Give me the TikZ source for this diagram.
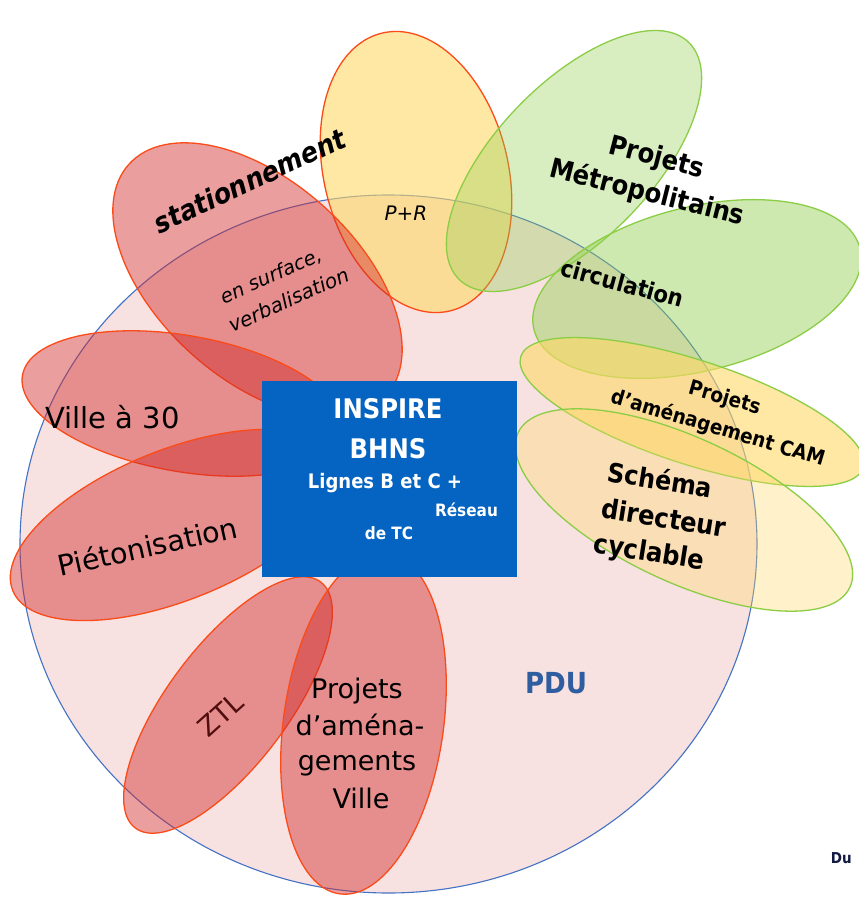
\documentclass[tikz,border=0pt]{standalone}
\usepackage{fontspec}
\setmainfont{DejaVu Sans}
\newfontfamily\bcond[FakeStretch=0.9]{DejaVu Sans}
\newcommand\fsz[1]{\fontsize{#1}{#1}\selectfont}
\definecolor{pdufill}{RGB}{247,225,225}
\definecolor{pduline}{RGB}{68,114,196}
\definecolor{redfill}{RGB}{210,40,40}
\definecolor{redline}{RGB}{250,75,25}
\definecolor{yelfill}{RGB}{255,217,102}
\definecolor{grnfill}{RGB}{146,208,80}
\definecolor{grnline}{RGB}{140,205,70}
\definecolor{boxblue}{RGB}{5,99,193}
\definecolor{pdutext}{RGB}{46,94,160}
\definecolor{ztlcol}{RGB}{80,15,15}
\definecolor{navytxt}{RGB}{15,25,65}
\begin{document}
\begin{tikzpicture}[x=1pt,y=-1pt,
  pdu/.style={fill=pdufill,draw=pduline,line width=1.1pt},
  redell/.style={fill=redfill,fill opacity=0.45,draw=redline,line width=1.3pt},
  yelred/.style={fill=yelfill,fill opacity=0.6,draw=redline,line width=1.3pt},
  yelgrn/.style={fill=yelfill,fill opacity=0.6,draw=grnline,line width=1.3pt},
  paleyel/.style={fill=yelfill,fill opacity=0.35,draw=grnline,line width=1.3pt},
  grnlight/.style={fill=grnfill,fill opacity=0.35,draw=grnline,line width=1.3pt},
  grnmid/.style={fill=grnfill,fill opacity=0.45,draw=grnline,line width=1.3pt},
  lbl/.style={inner sep=0pt,anchor=base,text=black},
  boxlbl/.style={inner sep=0pt,anchor=base,text=white},
]
\useasboundingbox (0,0) rectangle (859,897);
\clip (0,0) rectangle (859,897);
\fill[white] (0,0) rectangle (859,897);

% PDU
\draw[pdu] (388.5,544) ellipse [x radius=368.5, y radius=349];

% yellow / green
\draw[yelred, rotate around={14:(416,172)}] (416,172) ellipse [x radius=92, y radius=143];
\draw[grnlight, rotate around={46:(574,161)}] (574,161) ellipse [x radius=165, y radius=78];
\draw[grnmid, rotate around={14:(697,289)}] (697,289) ellipse [x radius=168, y radius=82];
\draw[yelgrn, rotate around={-18:(692,412)}] (692,412) ellipse [x radius=180, y radius=52];
\draw[paleyel, rotate around={-25:(684,510)}] (684,510) ellipse [x radius=183, y radius=72];

% red
\draw[redell, rotate around={-42:(257.5,280)}] (257.5,280) ellipse [x radius=173, y radius=99];
\draw[redell, rotate around={-10:(183,403.5)}] (183,403.5) ellipse [x radius=163, y radius=68];
\draw[redell, rotate around={22:(175,525)}] (175,525) ellipse [x radius=175, y radius=75];
\draw[redell, rotate around={53:(228,705)}] (228,705) ellipse [x radius=154, y radius=60];
\draw[redell, rotate around={-8:(363.5,723.5)}] (363.5,723.5) ellipse [x radius=80, y radius=172];

% central box
\node[fill=boxblue, minimum width=255pt, minimum height=196pt, inner sep=0pt, anchor=north west] (box) at (261.5,381) {};

% texts
\node[lbl, rotate=25] (stat) at (254,190) {\bcond\bfseries\itshape\fsz{28}stationnement};
\node[lbl, rotate=24] (surf) at (273.5,282) {\itshape\fsz{19.5}en surface,};
\node[lbl, rotate=24] (verb) at (291.5,306.5) {\itshape\fsz{20}verbalisation};
\node[lbl] (pr) at (406,220) {\itshape\fsz{20}P+R};
\node[lbl, rotate=-14.5] (pm1) at (654.5,165.5) {\bcond\bfseries\fsz{27}Projets};
\node[lbl, rotate=-14] (pm2) at (645,201) {\bcond\bfseries\fsz{27}Métropolitains};
\node[lbl, rotate=-15] (circ) at (620.5,291.5) {\bcond\bfseries\fsz{23.5}circulation};
\node[lbl, rotate=-16] (cam1) at (723,404) {\bcond\bfseries\fsz{20.5}Projets};
\node[lbl, rotate=-16.6] (cam2) at (716,434.5) {\bcond\bfseries\fsz{20.5}d’aménagement CAM};
\node[lbl, rotate=-9] (sc1) at (658.5,489.5) {\bcond\bfseries\fsz{26.5}Schéma};
\node[lbl, rotate=-9] (sc2) at (662.5,527.5) {\bcond\bfseries\fsz{27}directeur};
\node[lbl, rotate=-9] (sc3) at (648,561) {\bcond\bfseries\fsz{27}cyclable};
\node[lbl] (v30) at (112.5,428) {\fsz{29}Ville à 30};
\node[lbl, rotate=12.5] (pieton) at (150,557) {\fsz{28.5}Piétonisation};
\node[lbl, rotate=42, text=ztlcol] (ztl) at (227,722) {\fsz{27}ZTL};
\node[lbl] (pv1) at (357,698) {\fsz{27}Projets};
\node[lbl] (pv2) at (360,735) {\fsz{27}d’aména-};
\node[lbl] (pv3) at (357,770) {\fsz{27}gements};
\node[lbl] (pv4) at (361,808) {\fsz{27}Ville};
\node[lbl, text=pdutext] (pdu) at (556,693) {\bcond\bfseries\fsz{29}PDU};

\node[boxlbl] (b1) at (388,418) {\bcond\bfseries\fsz{27}INSPIRE};
\node[boxlbl] (b2) at (388,458) {\bcond\bfseries\fsz{27}BHNS};
\node[boxlbl] (b3) at (385,488) {\bcond\bfseries\fsz{20}Lignes B et C +};
\node[boxlbl] (b4) at (466.5,516) {\bcond\bfseries\fsz{17}Réseau};
\node[boxlbl] (b5) at (389,539) {\bcond\bfseries\fsz{17}de TC};

\node[inner sep=0pt, anchor=base east, text=navytxt] (du) at (852,863) {\bcond\bfseries\fsz{15}Du};
\end{tikzpicture}
\end{document}
